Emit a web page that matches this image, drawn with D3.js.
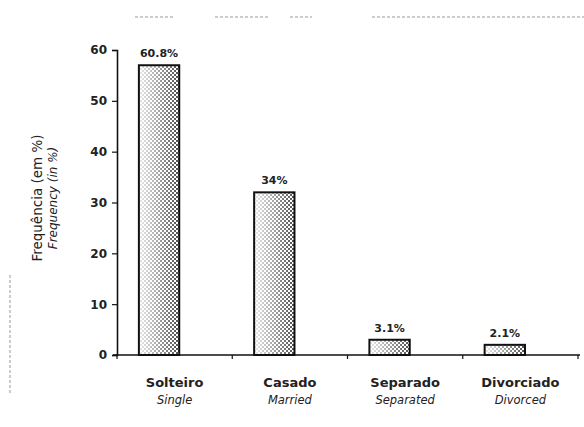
<!DOCTYPE html>
<html><head><meta charset="utf-8">
<script src="https://cdn.jsdelivr.net/npm/d3@7"></script>
<style>body{margin:0;background:#fff}svg{display:block}text{font-family:"DejaVu Sans",Verdana,sans-serif}</style>
</head><body><svg id="c" width="584" height="427"></svg>
<script>
const categoriesPt = ["Solteiro","Casado","Separado","Divorciado"];
const categoriesEn = ["Single","Married","Separated","Divorced"];
const barValues = [57, 32, 3, 2];
const valueLabels = ["60.8%","34%","3.1%","2.1%"];
const yTicks = [0,10,20,30,40,50,60];

const svg = d3.select("#c");
const m = {l:117, r:6, t:50, b:72};
const W = 584, H = 427;
const x = d3.scaleBand().domain(categoriesPt).range([m.l, W - m.r]).padding(0);
const y = d3.scaleLinear().domain([0,60]).range([H - m.b, m.t]);

const defs = svg.append("defs");
const pat = defs.append("pattern").attr("id","dots").attr("patternUnits","userSpaceOnUse").attr("width",4).attr("height",4);
pat.append("rect").attr("width",4).attr("height",4).attr("fill","#fff");
pat.append("rect").attr("x",0).attr("y",0).attr("width",2).attr("height",2).attr("fill","#444");
pat.append("rect").attr("x",2).attr("y",2).attr("width",2).attr("height",2).attr("fill","#444");
const g = defs.append("linearGradient").attr("id","fade").attr("x1","0").attr("x2","1").attr("y1","0").attr("y2","0");
g.append("stop").attr("offset","0").attr("stop-color","#fff").attr("stop-opacity",0.9);
g.append("stop").attr("offset","0.45").attr("stop-color","#fff").attr("stop-opacity",0.55);
g.append("stop").attr("offset","1").attr("stop-color","#fff").attr("stop-opacity",0.05);

// scanning artifacts
const art = svg.append("g").attr("stroke","#999").attr("stroke-width",1).attr("stroke-dasharray","3,2");
[[135,175],[215,268],[290,312],[372,584]].forEach(([a,b]) => art.append("line").attr("x1",a).attr("x2",b).attr("y1",17).attr("y2",17));
art.append("line").attr("x1",10).attr("x2",10).attr("y1",275).attr("y2",395);

// bars
const bw = x.bandwidth()*0.35, bo = x.bandwidth()*0.19;
const bars = svg.append("g");
categoriesPt.forEach((c,i) => {
  const bx = x(c) + bo, by = y(barValues[i]), bh = y(0) - y(barValues[i]);
  bars.append("rect").attr("x",bx).attr("y",by).attr("width",bw).attr("height",bh).attr("fill","url(#dots)");
  bars.append("rect").attr("x",bx).attr("y",by).attr("width",bw).attr("height",bh).attr("fill","url(#fade)")
    .attr("stroke","#111").attr("stroke-width",2);
  svg.append("text").attr("x",bx + bw/2).attr("y",by - 8).attr("text-anchor","middle")
    .attr("font-size",11).attr("font-weight","bold").attr("fill","#222").text(valueLabels[i]);
});

// y axis
const ya = svg.append("g").attr("transform",`translate(${m.l},0)`)
  .call(d3.axisLeft(y).tickValues(yTicks).tickSize(5).tickPadding(5));
ya.select(".domain").attr("stroke","#111").attr("stroke-width",1.6);
ya.selectAll(".tick line").attr("stroke","#111").attr("stroke-width",1.2);
ya.selectAll(".tick text").attr("font-size",12).attr("font-weight","bold").attr("fill","#222")
  .attr("font-family","DejaVu Sans, Verdana, sans-serif");

// x axis
const xa = svg.append("g").attr("transform",`translate(0,${y(0)})`);
xa.append("line").attr("x1",m.l-4).attr("x2",W-m.r+2).attr("stroke","#111").attr("stroke-width",1.6);
const bounds = categoriesPt.map(c => x(c)).concat([x(categoriesPt[categoriesPt.length-1]) + x.bandwidth()]);
bounds.forEach(b => xa.append("line").attr("x1",b).attr("x2",b).attr("y1",0).attr("y2",4).attr("stroke","#111").attr("stroke-width",1.2));
categoriesPt.forEach((c,i) => {
  const cx = x(c) + x.bandwidth()/2;
  svg.append("text").attr("x",cx).attr("y",y(0)+32).attr("text-anchor","middle")
    .attr("font-size",13).attr("font-weight","bold").attr("fill","#222").text(c);
  svg.append("text").attr("x",cx).attr("y",y(0)+49).attr("text-anchor","middle")
    .attr("font-size",11.5).attr("font-style","italic").attr("fill","#222").text(categoriesEn[i]);
});

// y title
const yt = svg.append("g").attr("transform","translate(42,198) rotate(-90)");
yt.append("text").attr("text-anchor","middle").attr("font-size",13.5).attr("fill","#222").text("Frequência (em %)");
yt.append("text").attr("y",15).attr("text-anchor","middle").attr("font-size",12).attr("font-style","italic").attr("fill","#222").text("Frequency (in %)");
</script></body></html>
